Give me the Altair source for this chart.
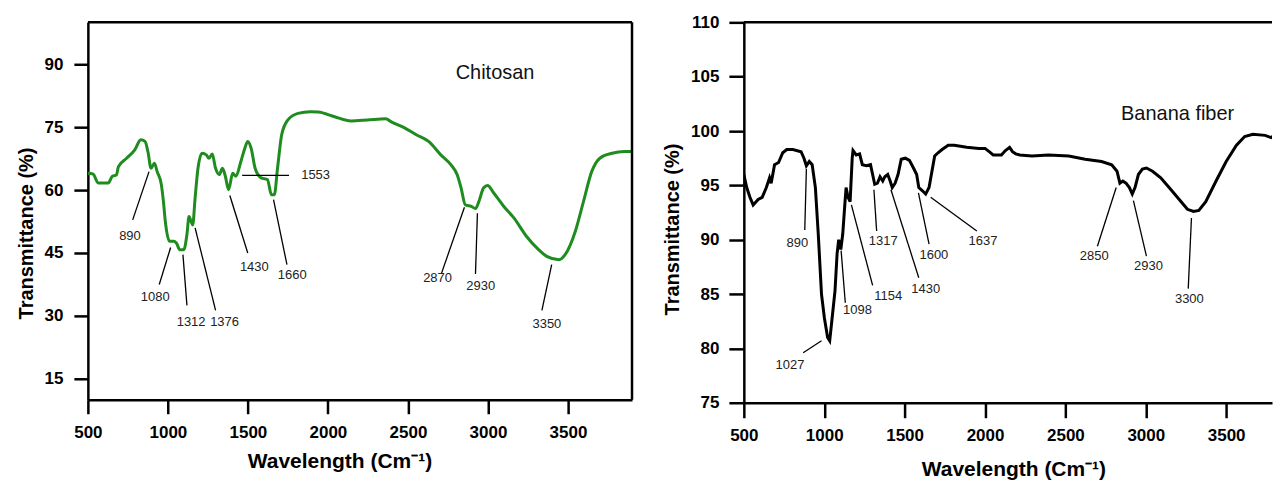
import altair as alt
import pandas as pd

FONT = "Liberation Sans"

# ---------------- Chitosan spectrum ----------------
chit_wn = [500, 533, 564, 602, 627, 653, 678, 691, 742, 793, 831, 857, 875, 895, 916, 933, 959, 972, 984,
           1010, 1035, 1053, 1074, 1099, 1119, 1132, 1145, 1155, 1170, 1188, 1214, 1240, 1257, 1277, 1298,
           1321, 1341, 1359, 1379, 1405, 1425, 1456, 1481, 1499, 1520, 1545, 1583, 1622, 1647, 1665, 1685,
           1711, 1749, 1813, 1889, 1940, 2042, 2144, 2246, 2361, 2399, 2476, 2552, 2629, 2705, 2769, 2807,
           2832, 2858, 2896, 2922, 2947, 2972, 2998, 3036, 3099, 3163, 3240, 3316, 3367, 3444, 3482, 3546,
           3597, 3648, 3699, 3776, 3852, 3900]
chit_t = [64.0, 63.8, 61.7, 61.7, 61.7, 63.3, 63.6, 65.6, 67.6, 69.6, 72.0, 71.6, 69.2, 65.2, 66.4, 64.4,
          61.3, 57.3, 52.5, 47.8, 47.8, 47.4, 45.8, 45.8, 49.4, 53.7, 52.5, 51.7, 58.1, 65.2, 68.8, 68.4,
          67.6, 68.6, 65.2, 63.7, 65.2, 63.3, 60.1, 64.0, 63.3, 66.8, 70.0, 71.6, 70.0, 65.2, 62.9, 62.5,
          58.9, 58.9, 65.2, 73.2, 76.7, 78.3, 78.7, 78.6, 77.5, 76.5, 76.7, 77.0, 76.2, 74.9, 73.2, 71.6,
          68.4, 66.0, 63.7, 60.5, 56.5, 56.1, 55.6, 57.7, 60.5, 61.1, 59.3, 56.1, 53.3, 49.0, 45.8, 44.2,
          43.4, 44.6, 50.2, 57.3, 64.4, 67.6, 68.8, 69.2, 69.2]

chit_labels = ["890", "1080", "1312", "1376", "1430", "1660", "1553", "2870", "2930", "3350"]
chit_x1 = [882, 1017, 1094, 1170, 1387, 1660, 1464, 2853, 2934, 3398]
chit_y1 = [64.4, 46.3, 44.6, 51.0, 58.7, 57.7, 63.5, 55.9, 54.5, 42.2]
chit_x2 = [780, 946, 1119, 1298, 1499, 1744, 1757, 2710, 2922, 3337]
chit_y2 = [52.9, 37.5, 32.5, 31.3, 45.0, 42.2, 63.5, 40.2, 40.0, 31.3]
chit_tx = [763, 921, 1145, 1354, 1540, 1777, 1923, 2685, 2955, 3368]
chit_ty = [49.1, 34.4, 28.6, 28.6, 41.7, 39.7, 63.7, 39.0, 37.1, 28.1]

# ---------------- Banana fiber spectrum ----------------
ban_wn = [500, 518, 538, 558, 589, 614, 640, 660, 670, 691, 716, 742, 767, 805, 856, 874, 889, 907, 925,
          945, 963, 983, 1001, 1021, 1034, 1047, 1067, 1080, 1090, 1103, 1115, 1128, 1136, 1148, 1161,
          1174, 1179, 1199, 1220, 1237, 1263, 1288, 1301, 1314, 1331, 1347, 1364, 1377, 1395, 1410, 1423,
          1441, 1459, 1479, 1504, 1530, 1555, 1575, 1588, 1611, 1631, 1652, 1670, 1687, 1708, 1733, 1771,
          1809, 1886, 1962, 2000, 2026, 2051, 2102, 2127, 2153, 2171, 2191, 2216, 2292, 2394, 2521, 2623,
          2725, 2788, 2821, 2839, 2857, 2877, 2898, 2916, 2933, 2954, 2979, 3004, 3042, 3093, 3157, 3208,
          3259, 3297, 3330, 3373, 3437, 3500, 3564, 3615, 3666, 3742, 3780, 3805, 3839]
ban_t = [96.0, 94.8, 93.9, 93.2, 93.7, 93.9, 94.8, 95.7, 95.2, 96.9, 97.1, 98.0, 98.3, 98.3, 98.1, 97.5,
         96.8, 97.2, 96.9, 94.8, 90.5, 85.0, 82.8, 81.0, 80.7, 82.5, 85.3, 88.7, 90.0, 89.1, 90.5, 93.2,
         94.8, 93.9, 93.5, 97.5, 98.2, 97.8, 97.9, 96.9, 96.8, 96.9, 96.0, 95.1, 95.2, 95.8, 95.4, 95.8,
         96.0, 95.4, 94.8, 95.2, 96.0, 97.4, 97.5, 97.3, 96.6, 96.0, 94.8, 94.5, 94.2, 94.8, 96.3, 97.7,
         98.0, 98.3, 98.7, 98.7, 98.5, 98.4, 98.4, 98.1, 97.8, 97.8, 98.2, 98.5, 98.1, 97.9, 97.8, 97.7,
         97.8, 97.7, 97.4, 97.2, 96.9, 96.3, 95.2, 95.4, 95.2, 94.8, 94.2, 94.8, 96.0, 96.5, 96.6, 96.3,
         95.7, 94.6, 93.7, 92.8, 92.6, 92.7, 93.5, 95.4, 97.2, 98.7, 99.5, 99.7, 99.6, 99.4, 99.7, 99.7]

ban_labels = ["890", "1027", "1098", "1154", "1317", "1430", "1600", "1637", "2850", "2930", "3300"]
ban_x1 = [889, 983, 1105, 1169, 1309, 1415, 1586, 1662, 2816, 2923, 3284]
ban_y1 = [96.5, 80.7, 89.0, 93.2, 94.6, 94.6, 94.3, 93.9, 94.8, 93.6, 92.0]
ban_x2 = [879, 869, 1131, 1301, 1326, 1588, 1652, 1949, 2699, 3004, 3264]
ban_y2 = [90.9, 79.6, 84.2, 85.8, 90.8, 86.5, 89.6, 90.8, 89.4, 88.5, 85.5]
ban_tx = [833, 787, 1207, 1398, 1367, 1631, 1682, 1987, 2679, 3017, 3271]
ban_ty = [89.7, 78.5, 83.5, 84.8, 89.9, 85.5, 88.6, 89.9, 88.5, 87.6, 84.5]

x_ticks = [500, 1000, 1500, 2000, 2500, 3000, 3500]
chit_yticks = [15, 30, 45, 60, 75, 90]
ban_yticks = [75, 80, 85, 90, 95, 100, 105, 110]

XTITLE = "Wavelength (Cm\u207b\u00b9)"
YTITLE = "Transmittance (%)"


def panel(wn, t, color, interp, xdom, ydom, yticks, width, height, labels, x1, y1, x2, y2, tx, ty,
          name, name_x, name_y, xaxis_kw, yaxis_kw, right_rule):
    spec = pd.DataFrame({"wn": wn, "t": t})
    ann = pd.DataFrame({"label": labels, "x1": x1, "y1": y1, "x2": x2, "y2": y2, "tx": tx, "ty": ty})
    xs = alt.Scale(domain=xdom, nice=False, zero=False)
    ys = alt.Scale(domain=ydom, nice=False, zero=False)
    xa = alt.Axis(values=x_ticks, title=XTITLE, format="d", labelFlush=False, titleFontSize=21, **xaxis_kw)
    ya = alt.Axis(values=yticks, title=YTITLE, format="d", labelFlush=False, titleFontSize=20, **yaxis_kw)

    def X(f):
        return alt.X(f, scale=xs, axis=xa, title=XTITLE)

    def Y(f):
        return alt.Y(f, scale=ys, axis=ya, title=YTITLE)

    line = alt.Chart(spec).mark_line(color=color, strokeWidth=3, clip=True,
                                     interpolate=interp).encode(x=X("wn:Q"), y=Y("t:Q"))
    top = alt.Chart(pd.DataFrame({"v": [ydom[1]]})).mark_rule(color="black", strokeWidth=2.5).encode(
        y=Y("v:Q")
    )
    layers = [line, top]
    if right_rule:
        layers.append(
            alt.Chart(pd.DataFrame({"v": [xdom[1]]})).mark_rule(color="black", strokeWidth=2.5).encode(
                x=X("v:Q")
            )
        )
    leaders = alt.Chart(ann).mark_rule(color="black", strokeWidth=1.3).encode(
        x=X("x1:Q"), y=Y("y1:Q"), x2="x2:Q", y2="y2:Q",
    )
    texts = alt.Chart(ann).mark_text(font=FONT, fontSize=13, color="#222222").encode(
        x=X("tx:Q"), y=Y("ty:Q"), text="label:N"
    )
    title_df = pd.DataFrame({"name": [name], "x": [name_x], "y": [name_y]})
    ttl = alt.Chart(title_df).mark_text(font=FONT, fontSize=20, color="#111111").encode(
        x=X("x:Q"), y=Y("y:Q"), text="name:N"
    )
    layers += [leaders, texts, ttl]
    return alt.layer(*layers).properties(width=width, height=height)


left = panel(chit_wn, chit_t, "#1e8c1e", "monotone", [500, 3900], [10, 100], chit_yticks, 545, 378,
             chit_labels, chit_x1, chit_y1, chit_x2, chit_y2, chit_tx, chit_ty,
             "Chitosan", 3044, 87.9,
             dict(tickSize=14, labelPadding=11, titlePadding=10, titleX=252),
             dict(tickSize=14, labelPadding=11, titlePadding=8, titleY=211),
             True)

right = panel(ban_wn, ban_t, "#000000", "linear", [500, 3785], [75, 110], ban_yticks, 529, 381,
              ban_labels, ban_x1, ban_y1, ban_x2, ban_y2, ban_tx, ban_ty,
              "Banana fiber", 3198, 101.6,
              dict(tickSize=15, labelPadding=10, titlePadding=15, titleX=270),
              dict(tickSize=15, labelPadding=10, titlePadding=8, titleY=207),
              False)

chart = alt.hconcat(left, right, spacing=112, bounds="flush").properties(
    padding={"left": 8, "top": 5, "right": 0, "bottom": 0}
).configure_view(stroke=None).configure_axis(
    grid=False,
    domainColor="black", domainWidth=2.5,
    tickColor="black", tickWidth=2.5,
    labelFont=FONT, labelFontSize=17, labelFontWeight="bold", labelColor="black",
    titleFont=FONT, titleFontWeight="bold", titleColor="black",
)

chart.save("out.html", embed_options={"renderer": "svg", "actions": False})
